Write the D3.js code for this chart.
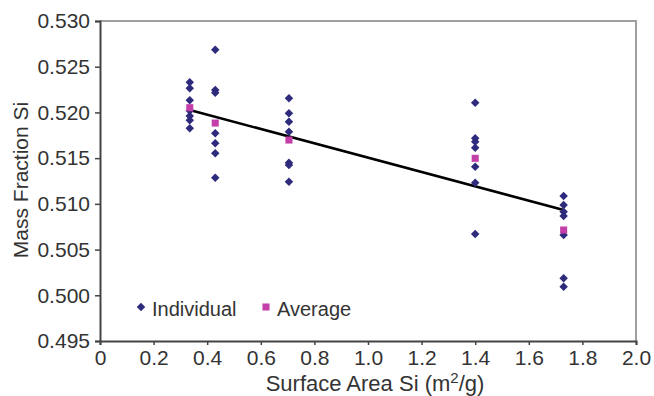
<!DOCTYPE html>
<html><head><meta charset="utf-8">
<script src="https://cdn.jsdelivr.net/npm/d3@7"></script>
<style>body{margin:0;background:#fff}text{font-family:"Liberation Sans",Arial,sans-serif;fill:#333}</style>
</head><body><svg id="c" width="654" height="396"></svg>
<script>
// Data
const surfaceAreas = [0.335, 0.43, 0.705, 1.40, 1.73];
const individual = [
  [0.52330, 0.52264, 0.52133, 0.52019, 0.51961, 0.51914, 0.51826],
  [0.52686, 0.52245, 0.52216, 0.51772, 0.51662, 0.51553, 0.51286],
  [0.52154, 0.51990, 0.51899, 0.51789, 0.51450, 0.51425, 0.51242],
  [0.52106, 0.51717, 0.51680, 0.51614, 0.51406, 0.51231, 0.50670],
  [0.51086, 0.50987, 0.50914, 0.50867, 0.50659, 0.50186, 0.50094]
];
const average = [0.52052, 0.51884, 0.51698, 0.51498, 0.50714];
const trendX = [0.335, 1.73];
const trendY = [0.52027, 0.50933];
const xTicks = [0, 0.2, 0.4, 0.6, 0.8, 1.0, 1.2, 1.4, 1.6, 1.8, 2.0];
const yTicks = [0.495, 0.500, 0.505, 0.510, 0.515, 0.520, 0.525, 0.530];
const seriesNames = ["Individual", "Average"];

const svg = d3.select("#c");
const L = 100, R = 636, T = 21, B = 341;
const x = d3.scaleLinear().domain([0, 2]).range([L, R]);
const y = d3.scaleLinear().domain([0.495, 0.530]).range([B, T]);
const navy = "#2e2b7c", pink = "#c43fa8";

// frame (top/right)
svg.append("path").attr("d", `M${L},${T}H${R}V${B}`).attr("fill", "none")
  .attr("stroke", "#a0a0a0").attr("stroke-width", 2);

const xa = svg.append("g").attr("transform", `translate(0,${B})`)
  .call(d3.axisBottom(x).tickValues(xTicks).tickSize(4).tickPadding(5)
    .tickFormat(d => d === 0 ? "0" : d3.format(".1f")(d)));
const ya = svg.append("g").attr("transform", `translate(${L},0)`)
  .call(d3.axisLeft(y).tickValues(yTicks).tickSize(5).tickPadding(5)
    .tickFormat(d3.format(".3f")));
[xa, ya].forEach(a => {
  a.select(".domain").attr("stroke", "#444").attr("stroke-width", 2);
  a.selectAll(".tick line").attr("stroke", "#444").attr("stroke-width", 1.5);
  a.selectAll(".tick text").attr("font-size", 21).attr("fill", "#333")
    .style("font-family", '"Liberation Sans",Arial,sans-serif');
});

// trend line
svg.append("line").attr("x1", x(trendX[0])).attr("y1", y(trendY[0]))
  .attr("x2", x(trendX[1])).attr("y2", y(trendY[1]))
  .attr("stroke", "#000").attr("stroke-width", 2.5);

const diamond = d3.symbol().type(d3.symbolSquare).size(36)();
const square = d3.symbol().type(d3.symbolSquare).size(50)();

const indPts = [];
surfaceAreas.forEach((sa, i) => individual[i].forEach(v => indPts.push([sa, v])));
svg.append("g").selectAll("path").data(indPts).join("path")
  .attr("d", diamond).attr("fill", navy)
  .attr("transform", d => `translate(${x(d[0])},${y(d[1])}) rotate(45)`);
svg.append("g").selectAll("path").data(average).join("path")
  .attr("d", square).attr("fill", pink)
  .attr("transform", (d, i) => `translate(${x(surfaceAreas[i])},${y(d)})`);

// legend
svg.append("path").attr("d", diamond).attr("fill", navy).attr("transform", "translate(141,307) rotate(45)");
svg.append("text").attr("x", 152).attr("y", 316).attr("font-size", 20).text(seriesNames[0]);
svg.append("path").attr("d", square).attr("fill", pink).attr("transform", "translate(266,307)");
svg.append("text").attr("x", 277).attr("y", 316).attr("font-size", 20).text(seriesNames[1]);

// axis titles
svg.append("text").attr("transform", "translate(28,180) rotate(-90)").attr("text-anchor", "middle")
  .attr("font-size", 21).text("Mass Fraction Si");
const xt = svg.append("text").attr("x", 375).attr("y", 391).attr("text-anchor", "middle").attr("font-size", 22);
xt.append("tspan").text("Surface Area Si (m");
xt.append("tspan").attr("font-size", 15).attr("dy", -8).text("2");
xt.append("tspan").attr("dy", 8).text("/g)");
</script></body></html>
